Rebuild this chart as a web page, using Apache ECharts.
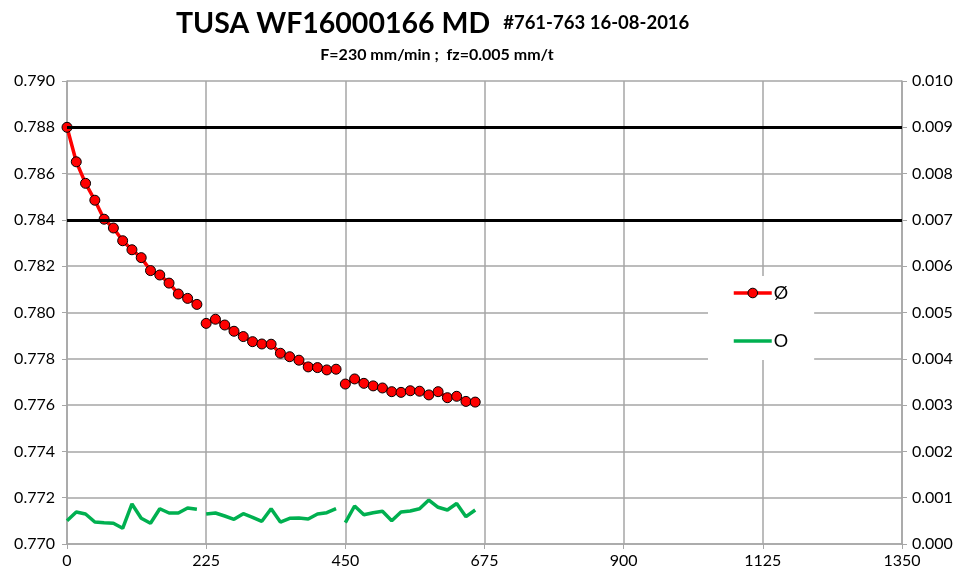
<!DOCTYPE html>
<html>
<head>
<meta charset="utf-8">
<script src="https://cdn.jsdelivr.net/npm/echarts@6/dist/echarts.min.js"></script>
<style>html,body{margin:0;padding:0;background:#fff}#c{width:968px;height:578px}</style>
</head>
<body>
<div id="c"></div>
<script>
// x positions of the three measurement runs
var xRun1 = [0,15,30,45,60,75,90,105,120,135,150,165,180,195,210];
var xRun2 = [225,240,255,270,285,300,315,330,345,360,375,390,405,420,435];
var xRun3 = [450,465,480,495,510,525,540,555,570,585,600,615,630,645,660];
// Ø (left axis)
var diaRun1 = [0.7880,0.78651,0.78558,0.78485,0.78403,0.78365,0.78310,0.78271,0.78237,0.78181,0.78162,0.78127,0.78080,0.78061,0.78035];
var diaRun2 = [0.77953,0.77971,0.77946,0.77919,0.77896,0.77874,0.77864,0.77863,0.77824,0.77809,0.77794,0.77765,0.77762,0.77752,0.77755];
var diaRun3 = [0.77691,0.77713,0.77694,0.77683,0.77674,0.77658,0.77655,0.77662,0.77660,0.77644,0.77658,0.77632,0.77638,0.77616,0.77613];
// O (right axis)
var rndRun1 = [0.000503,0.000691,0.000648,0.000475,0.000460,0.000447,0.000339,0.000864,0.000555,0.000447,0.000762,0.000670,0.000670,0.000778,0.000749];
var rndRun2 = [0.000648,0.000670,0.000605,0.000533,0.000654,0.000577,0.000490,0.000762,0.000475,0.000555,0.000562,0.000540,0.000648,0.000676,0.000762];
var rndRun3 = [0.000460,0.000821,0.000633,0.000676,0.000706,0.000503,0.000691,0.000713,0.000762,0.000950,0.000793,0.000734,0.000875,0.000590,0.000734];
// tolerance limits
var limits = [0.788, 0.784];
var seriesNames = ['Ø', 'O'];

var FONT = 'Lato';
function pairs(xs, ys){ return xs.map(function(x,i){ return [x, ys[i]]; }); }

function diaSeries(xs, ys, withLimits){
  var s = {
    name: seriesNames[0], type: 'line', yAxisIndex: 0,
    data: pairs(xs, ys),
    symbol: 'circle', symbolSize: 10,
    lineStyle: { color: '#ff0000', width: 3.5 },
    itemStyle: { color: '#ff0000', borderColor: '#000', borderWidth: 1 },
    z: 4, animation: false
  };
  if (withLimits) {
    s.markLine = {
      silent: true, symbol: ['none','none'], label: { show: false },
      precision: 4,
      lineStyle: { color: '#000', width: 3, type: 'solid' },
      data: limits.map(function(v){ return { yAxis: v }; }),
      animation: false
    };
  }
  return s;
}
function rndSeries(xs, ys){
  return {
    name: seriesNames[1], type: 'line', yAxisIndex: 1,
    data: pairs(xs, ys), symbol: 'none',
    lineStyle: { color: '#00b050', width: 3.5 },
    itemStyle: { color: '#00b050' },
    z: 3, animation: false
  };
}

var chart = echarts.init(document.getElementById('c'));
var gridColor = '#a6a6a6';
var labelFont = { fontFamily: FONT, fontSize: 16, color: '#000' };
chart.setOption({
  backgroundColor: '#fff',
  animation: false,
  textStyle: { fontFamily: FONT },
  title: [{
    left: 171, top: 4,
    text: '{a|TUSA WF16000166 MD}   {b|#761-763 16-08-2016}',
    textStyle: { rich: {
      a: { fontFamily: FONT, fontSize: 28.5, fontWeight: 'bold', color: '#000' },
      b: { fontFamily: FONT, fontSize: 18.5, fontWeight: 'bold', color: '#000' }
    } }
  }, {
    left: 432, top: 42, textAlign: 'center',
    text: 'F=230 mm/min ;  fz=0.005 mm/t',
    textStyle: { fontFamily: FONT, fontSize: 16, fontWeight: 'bold', color: '#000' }
  }],
  grid: { left: 67, right: 66, top: 81, bottom: 34, containLabel: false },
  legend: {
    orient: 'vertical', left: 708, top: 276,
    data: [
      { name: seriesNames[0], itemStyle: { color: '#ff0000', borderColor: '#000', borderWidth: 1 } },
      { name: seriesNames[1], itemStyle: { opacity: 0 } }
    ],
    itemWidth: 38, itemHeight: 12, itemGap: 30,
    lineStyle: { width: 3.5 },
    backgroundColor: '#fff', padding: [8, 26, 10, 24],
    textStyle: { fontFamily: FONT, fontSize: 18, color: '#000', padding: [0, 0, 0, -3] }
  },
  xAxis: {
    type: 'value', min: 0, max: 1350, interval: 225,
    axisLine: { show: true, lineStyle: { color: gridColor, width: 1.5 } },
    axisTick: { show: true, length: 5, lineStyle: { color: gridColor } },
    axisLabel: Object.assign({ margin: 9, formatter: function(v){ return String(v); } }, labelFont),
    splitLine: { show: true, lineStyle: { color: gridColor, width: 1.5 } }
  },
  yAxis: [{
    type: 'value', min: 0.770, max: 0.790, interval: 0.002,
    axisLine: { show: true, lineStyle: { color: gridColor, width: 1.5 } },
    axisTick: { show: true, length: 5, lineStyle: { color: gridColor } },
    axisLabel: Object.assign({ margin: 12, formatter: function(v){ return v.toFixed(3); } }, labelFont),
    splitLine: { show: true, lineStyle: { color: gridColor, width: 1.5 } }
  }, {
    type: 'value', min: 0, max: 0.010, interval: 0.001, position: 'right',
    axisLine: { show: true, lineStyle: { color: gridColor, width: 1.5 } },
    axisTick: { show: true, length: 5, lineStyle: { color: gridColor } },
    axisLabel: Object.assign({ margin: 10, formatter: function(v){ return v.toFixed(3); } }, labelFont),
    splitLine: { show: false }
  }],
  series: [
    diaSeries(xRun1, diaRun1, true),
    diaSeries(xRun2, diaRun2, false),
    diaSeries(xRun3, diaRun3, false),
    rndSeries(xRun1, rndRun1),
    rndSeries(xRun2, rndRun2),
    rndSeries(xRun3, rndRun3)
  ]
});
</script>
</body>
</html>
